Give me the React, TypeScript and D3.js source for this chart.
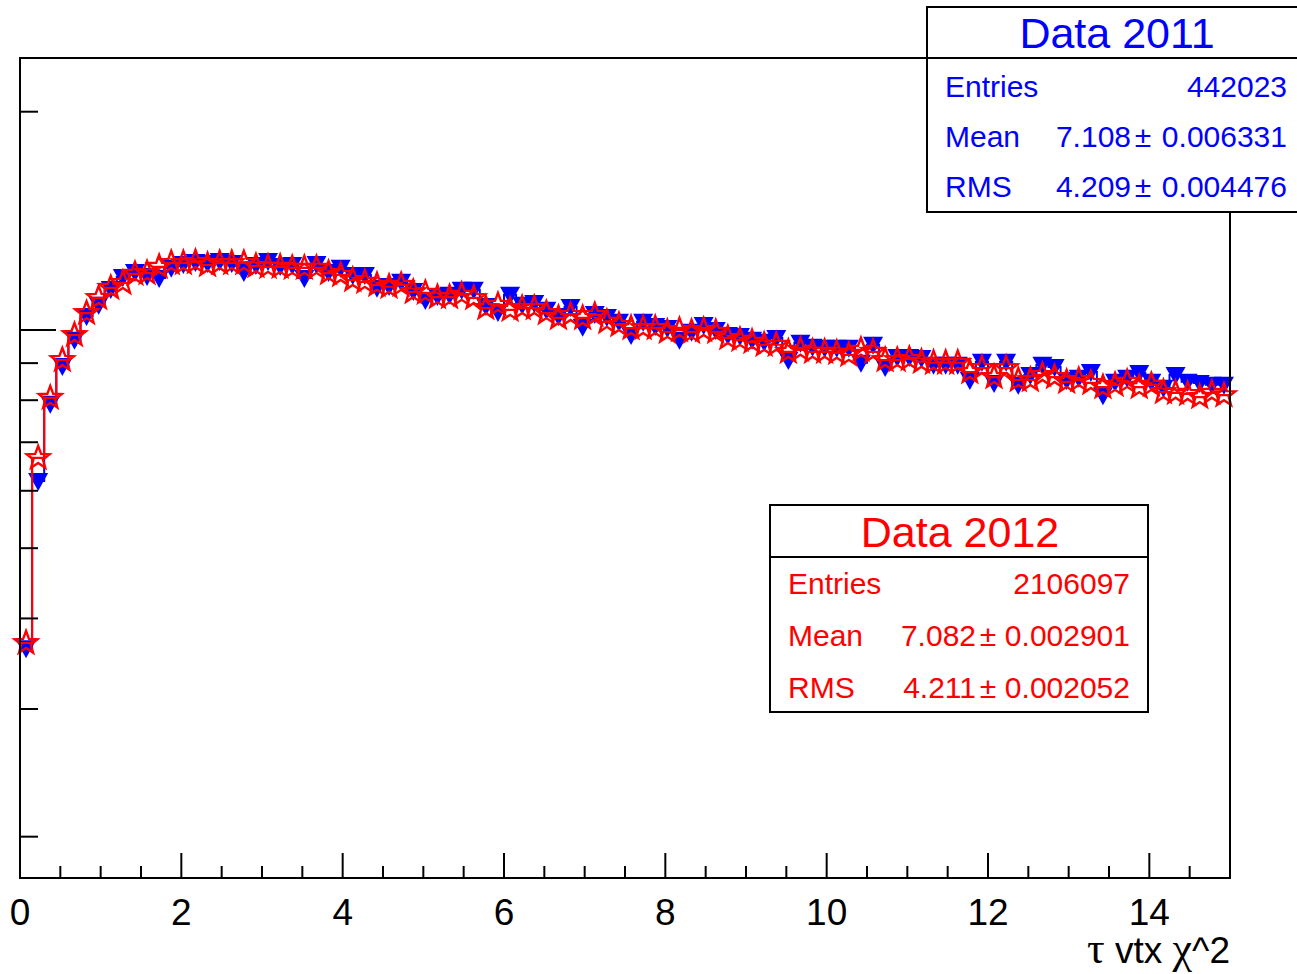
import React, { Component } from 'react';
import * as d3 from 'd3';

// histogram range, 100 bins of 0.15
const xMin = 0;
const xMax = 15;

// normalized bin contents (log y axis)
const data2011 = [
  0.00364, 0.00619, 0.00791, 0.00892, 0.00969, 0.01045, 0.01083, 0.01139, 0.01183, 0.01202,
  0.01187, 0.01179, 0.01218, 0.01233, 0.01241, 0.01237, 0.01245, 0.01237, 0.01202, 0.01229,
  0.01245, 0.01225, 0.01229, 0.01179, 0.01233, 0.01202, 0.01218, 0.01191, 0.01191, 0.01143,
  0.01150, 0.01165, 0.01132, 0.01100, 0.01114, 0.01118, 0.01136, 0.01136, 0.01079, 0.01059,
  0.01118, 0.01083, 0.01089, 0.01066, 0.01045, 0.01076, 0.01010, 0.01052, 0.01042, 0.01026,
  0.00984, 0.01026, 0.01013, 0.01006, 0.00969, 0.00994, 0.01016, 0.01000, 0.00984, 0.00981,
  0.00969, 0.00963, 0.00975, 0.00909, 0.00960, 0.00948, 0.00945, 0.00945, 0.00945, 0.00901,
  0.00954, 0.00889, 0.00918, 0.00918, 0.00915, 0.00895, 0.00895, 0.00895, 0.00853, 0.00904,
  0.00845, 0.00904, 0.00840, 0.00867, 0.00895, 0.00889, 0.00853, 0.00859, 0.00875, 0.00813,
  0.00848, 0.00859, 0.00872, 0.00848, 0.00832, 0.00867, 0.00848, 0.00845, 0.00840, 0.00840
];

const data2012 = [
  0.00370, 0.00666, 0.00806, 0.00909, 0.00984, 0.01055, 0.01107, 0.01143, 0.01161, 0.01195,
  0.01198, 0.01222, 0.01237, 0.01237, 0.01241, 0.01229, 0.01237, 0.01237, 0.01237, 0.01225,
  0.01222, 0.01222, 0.01218, 0.01218, 0.01218, 0.01198, 0.01191, 0.01172, 0.01165, 0.01154,
  0.01147, 0.01154, 0.01128, 0.01125, 0.01110, 0.01110, 0.01118, 0.01107, 0.01072, 0.01083,
  0.01066, 0.01072, 0.01072, 0.01055, 0.01039, 0.01049, 0.01039, 0.01049, 0.01026, 0.01016,
  0.01006, 0.01006, 0.01006, 0.00994, 0.01000, 0.00994, 0.01000, 0.00994, 0.00975, 0.00969,
  0.00963, 0.00954, 0.00954, 0.00933, 0.00939, 0.00933, 0.00933, 0.00930, 0.00924, 0.00939,
  0.00933, 0.00909, 0.00909, 0.00912, 0.00904, 0.00901, 0.00901, 0.00901, 0.00875, 0.00886,
  0.00861, 0.00886, 0.00853, 0.00853, 0.00867, 0.00861, 0.00848, 0.00853, 0.00845, 0.00834,
  0.00840, 0.00848, 0.00834, 0.00840, 0.00821, 0.00819, 0.00816, 0.00808, 0.00819, 0.00813
];

const xMajorTicks = [0, 2, 4, 6, 8, 10, 12, 14];
const xTickLabels = ['0', '2', '4', '6', '8', '10', '12', '14'];
const xMinorTicks = [0.5, 1, 1.5, 2.5, 3, 3.5, 4.5, 5, 5.5, 6.5, 7, 7.5, 8.5, 9, 9.5,
  10.5, 11, 11.5, 12.5, 13, 13.5, 14.5];
const yMajorTicks = [0.01];
const yMinorTicks = [0.002, 0.003, 0.004, 0.005, 0.006, 0.007, 0.008, 0.009, 0.02];
const yDomain = [0.001754, 0.02372];

const title2011 = 'Data 2011';
const stats2011 = [
  ['Entries', '442023', ''],
  ['Mean', '7.108', '0.006331'],
  ['RMS', '4.209', '0.004476']
];
const title2012 = 'Data 2012';
const stats2012 = [
  ['Entries', '2106097', ''],
  ['Mean', '7.082', '0.002901'],
  ['RMS', '4.211', '0.002052']
];

const FONT = '"Liberation Sans", Arial, Helvetica, sans-serif';
const SERIF = '"Liberation Serif", "DejaVu Serif", serif';
const BLUE = '#0000ff';
const RED = '#ff0000';

function starPath(R, r) {
  var pts = [];
  for (var k = 0; k < 10; k++) {
    var rad = k % 2 === 0 ? R : r;
    var a = -Math.PI / 2 + k * Math.PI / 5;
    pts.push([rad * Math.cos(a), rad * Math.sin(a)]);
  }
  return 'M' + pts.map(function (p) { return p[0].toFixed(2) + ',' + p[1].toFixed(2); }).join('L') + 'Z';
}

class App extends Component {
  svgRef = React.createRef();

  componentDidMount() {
    var svg = d3.select(this.svgRef.current);
    svg.selectAll('*').remove();

    var left = 20, right = 1230, top = 58, bottom = 878;

    var x = d3.scaleLinear().domain([xMin, xMax]).range([left, right]);
    var y = d3.scaleLog().domain(yDomain).range([bottom, top]);
    var nBins = data2012.length;
    var bw = (xMax - xMin) / nBins;

    svg.append('rect').attr('width', 1297).attr('height', 974).attr('fill', '#fff');

    // histograms: step lines + markers
    var step = d3.line()
      .x(function (d) { return x(d[0]); })
      .y(function (d) { return y(d[1]); })
      .curve(d3.curveStepAfter);

    function edges(vals) {
      var pts = vals.map(function (v, i) { return [xMin + i * bw, v]; });
      pts.push([xMax, vals[vals.length - 1]]);
      return pts;
    }

    var g2011 = svg.append('g');
    g2011.append('path').attr('d', step(edges(data2011)))
      .attr('fill', 'none').attr('stroke', BLUE).attr('stroke-width', 2);
    g2011.selectAll('path.m').data(data2011).enter().append('path')
      .attr('class', 'm')
      .attr('d', 'M-10,-8L10,-8L0,10Z')
      .attr('fill', BLUE)
      .attr('transform', function (d, i) {
        return 'translate(' + x(xMin + (i + 0.5) * bw) + ',' + y(d) + ')';
      });

    var g2012 = svg.append('g');
    g2012.append('path').attr('d', step(edges(data2012)))
      .attr('fill', 'none').attr('stroke', RED).attr('stroke-width', 2.2);
    var star = starPath(12, 5);
    g2012.selectAll('path.m').data(data2012).enter().append('path')
      .attr('class', 'm')
      .attr('d', star)
      .attr('fill', 'none')
      .attr('stroke', RED)
      .attr('stroke-width', 2.4)
      .attr('stroke-linejoin', 'miter')
      .attr('transform', function (d, i) {
        return 'translate(' + x(xMin + (i + 0.5) * bw) + ',' + y(d) + ')';
      });

    // frame
    svg.append('rect')
      .attr('x', left).attr('y', top)
      .attr('width', right - left).attr('height', bottom - top)
      .attr('fill', 'none').attr('stroke', '#000').attr('stroke-width', 2);

    // x ticks
    svg.selectAll('line.xmaj').data(xMajorTicks).enter().append('line')
      .attr('x1', function (d) { return x(d); }).attr('x2', function (d) { return x(d); })
      .attr('y1', bottom).attr('y2', bottom - 25)
      .attr('stroke', '#000').attr('stroke-width', 2);
    svg.selectAll('line.xmin').data(xMinorTicks).enter().append('line')
      .attr('x1', function (d) { return x(d); }).attr('x2', function (d) { return x(d); })
      .attr('y1', bottom).attr('y2', bottom - 12)
      .attr('stroke', '#000').attr('stroke-width', 2);

    svg.selectAll('text.xl').data(xMajorTicks).enter().append('text')
      .attr('x', function (d) { return x(d); })
      .attr('y', 925)
      .attr('text-anchor', 'middle')
      .attr('font-family', FONT)
      .attr('font-size', 37)
      .text(function (d, i) { return xTickLabels[i]; });

    // y ticks (log, no labels)
    svg.selectAll('line.ymaj').data(yMajorTicks).enter().append('line')
      .attr('x1', left).attr('x2', left + 36)
      .attr('y1', function (d) { return y(d); }).attr('y2', function (d) { return y(d); })
      .attr('stroke', '#000').attr('stroke-width', 2);
    svg.selectAll('line.ymin').data(yMinorTicks).enter().append('line')
      .attr('x1', left).attr('x2', left + 18)
      .attr('y1', function (d) { return y(d); }).attr('y2', function (d) { return y(d); })
      .attr('stroke', '#000').attr('stroke-width', 2);

    // axis title
    var t = svg.append('text')
      .attr('x', right).attr('y', 963)
      .attr('text-anchor', 'end')
      .attr('font-family', FONT)
      .attr('font-size', 37);
    t.append('tspan').attr('font-family', SERIF).attr('font-size', 44).text('τ');
    t.append('tspan').text(' vtx ');
    t.append('tspan').attr('font-family', SERIF).attr('font-size', 44).text('χ');
    t.append('tspan').text('^2');

    // stat boxes
    function statBox(x0, y0, x1, y1, sep, titleX, titleY, rows, rowY, textX, pmX, valRight, title, color) {
      var g = svg.append('g');
      g.append('rect').attr('x', x0).attr('y', y0).attr('width', x1 - x0).attr('height', y1 - y0)
        .attr('fill', '#fff').attr('stroke', '#000').attr('stroke-width', 2);
      g.append('line').attr('x1', x0).attr('x2', x1).attr('y1', sep).attr('y2', sep)
        .attr('stroke', '#000').attr('stroke-width', 2);
      g.append('text').attr('x', titleX)
        .attr('y', titleY).attr('text-anchor', 'middle')
        .attr('font-family', FONT).attr('font-size', 43).attr('fill', color).text(title);
      rows.forEach(function (r, i) {
        var yy = rowY[i];
        g.append('text').attr('x', textX).attr('y', yy)
          .attr('font-family', FONT).attr('font-size', 30).attr('fill', color).text(r[0]);
        if (r[2] === '') {
          g.append('text').attr('x', valRight).attr('y', yy).attr('text-anchor', 'end')
            .attr('font-family', FONT).attr('font-size', 30).attr('fill', color).text(r[1]);
        } else {
          g.append('text').attr('x', pmX - 12).attr('y', yy).attr('text-anchor', 'end')
            .attr('font-family', FONT).attr('font-size', 30).attr('fill', color).text(r[1]);
          g.append('text').attr('x', pmX).attr('y', yy).attr('text-anchor', 'middle')
            .attr('font-family', FONT).attr('font-size', 30).attr('fill', color).text('±');
          g.append('text').attr('x', valRight).attr('y', yy).attr('text-anchor', 'end')
            .attr('font-family', FONT).attr('font-size', 30).attr('fill', color).text(r[2]);
        }
      });
    }

    statBox(927, 7, 1310, 212, 58, 1117, 48, stats2011, [97, 147, 197], 945, 1143, 1287, title2011, BLUE);
    statBox(770, 505, 1148, 712, 557, 960, 547, stats2012, [594, 646, 698], 788, 988, 1130, title2012, RED);
  }

  render() {
    return (
      <svg ref={this.svgRef} width={1297} height={974}
        style={{ position: 'absolute', left: 0, top: 0, display: 'block' }} />
    );
  }
}

export default App;
